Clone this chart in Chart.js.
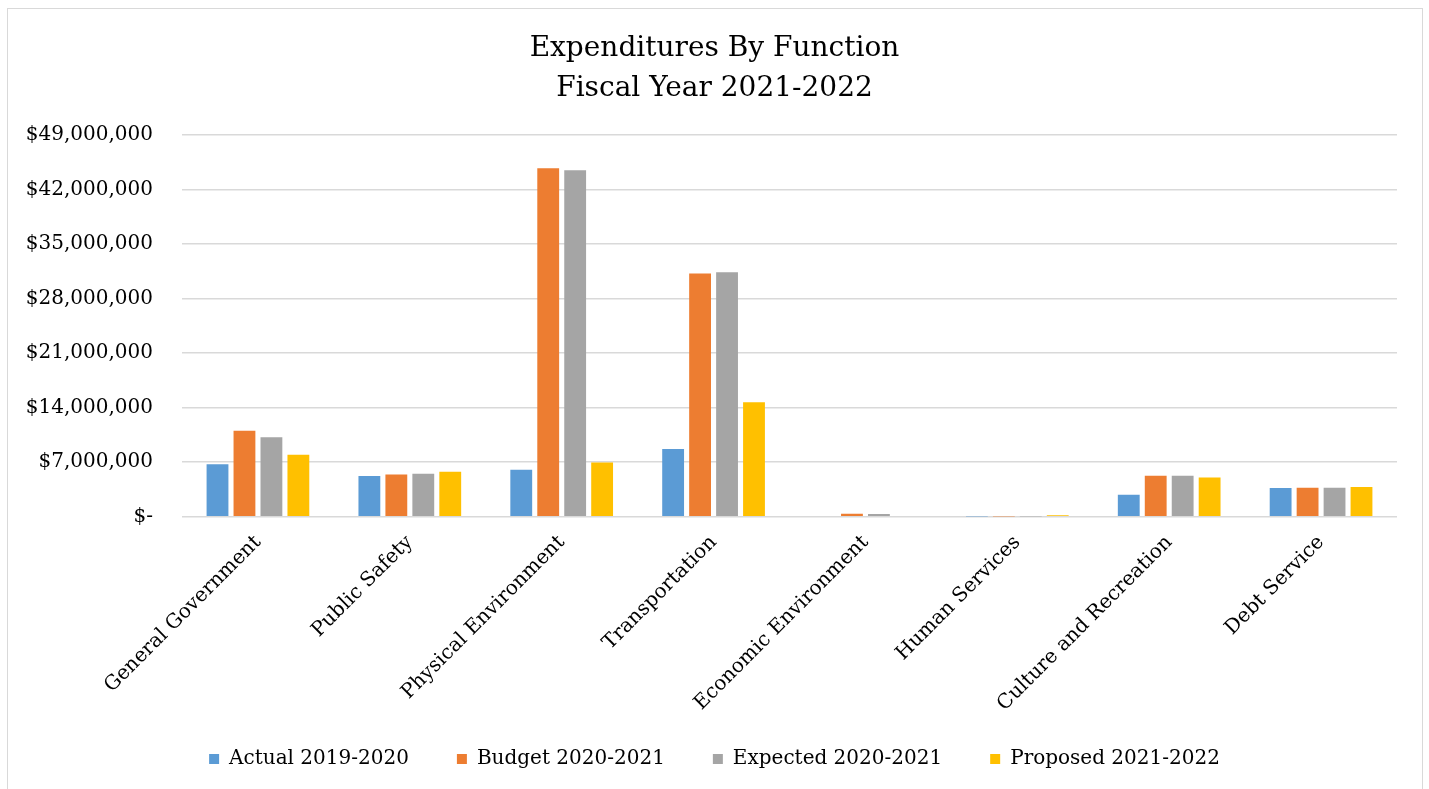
<!DOCTYPE html>
<html>
<head>
<meta charset="utf-8">
<script src="https://cdn.jsdelivr.net/npm/chart.js@4.4.1/dist/chart.umd.min.js"></script>
<style>
  html, body { margin: 0; padding: 0; background: #fff; overflow: hidden; }
  #wrap { position: relative; width: 1429px; height: 789px; }
  #frame { position: absolute; left: 7px; top: 8px; width: 1414px; height: 800px; border: 1px solid #d9d9d9; }
  canvas { position: absolute; left: 0; top: 0; }
</style>
</head>
<body>
<div id="wrap">
  <div id="frame"></div>
  <canvas id="chart" width="1429" height="789"></canvas>
</div>
<script>
/* ── data ─────────────────────────────────────────────────────────── */
var categories = ['General Government', 'Public Safety', 'Physical Environment', 'Transportation',
  'Economic Environment', 'Human Services', 'Culture and Recreation', 'Debt Service'];
var seriesNames = ['Actual 2019-2020', 'Budget 2020-2021', 'Expected 2020-2021', 'Proposed 2021-2022'];
var actual   = [6730000, 5230000, 6040000, 8700000, 0, 20000, 2830000, 3690000];
var budget   = [11060000, 5440000, 44750000, 31250000, 390000, 20000, 5270000, 3730000];
var expected = [10200000, 5530000, 44500000, 31400000, 350000, 20000, 5270000, 3730000];
var proposed = [7970000, 5790000, 6980000, 14700000, 0, 200000, 5050000, 3820000];
var yTicks = [0, 7000000, 14000000, 21000000, 28000000, 35000000, 42000000, 49000000];

var COLORS = ['#5B9BD5', '#ED7D31', '#A5A5A5', '#FFC000'];
var FONT = "'DejaVu Serif', 'Liberation Serif', serif";

function money(v) {
  if (v === 0) return '$-';
  return '$' + v.toLocaleString('en-US');
}

var values = [actual, budget, expected, proposed];
var datasets = seriesNames.map(function (name, i) {
  return {
    label: name,
    data: values[i],
    backgroundColor: COLORS[i],
    borderWidth: 0,
    barPercentage: 0.81,
    categoryPercentage: 0.71,
  };
});

new Chart(document.getElementById('chart'), {
  type: 'bar',
  data: { labels: categories, datasets: datasets },
  options: {
    responsive: false,
    animation: false,
    layout: { padding: { left: 24, right: 24, top: 18, bottom: 10 } },
    plugins: {
      title: {
        display: true,
        text: ['Expenditures By Function', 'Fiscal Year 2021-2022'],
        color: '#000',
        font: { family: FONT, size: 28, weight: 'normal', lineHeight: 1.45 },
        padding: { top: 10, bottom: 26 },
      },
      legend: {
        position: 'bottom',
        labels: {
          color: '#000',
          font: { family: FONT, size: 20 },
          boxWidth: 10,
          boxHeight: 10,
          padding: 48,
        },
      },
      tooltip: { enabled: false },
    },
    scales: {
      x: {
        grid: { display: false },
        border: { display: false },
        ticks: {
          color: '#000',
          font: { family: FONT, size: 20 },
          minRotation: 45,
          maxRotation: 45,
          padding: 6,
        },
        // rotated labels fit inside the frame; don't let them push the plot inward,
        // and let them hang a little past the axis box without being clipped
        afterFit: function (s) {
          s.paddingLeft = 0;
          s.paddingRight = 32;
          s.height = s.height - 21;
          s._computeLabelArea = function () { return undefined; };
        },
      },
      y: {
        min: 0,
        max: 49000000,
        afterBuildTicks: function (axis) {
          axis.ticks = yTicks.map(function (v) { return { value: v }; });
        },
        afterFit: function (s) { s.width = 158; },
        grid: { color: '#d9d9d9', lineWidth: 1.5, drawTicks: false },
        border: { display: false },
        ticks: {
          color: '#000',
          font: { family: FONT, size: 20 },
          padding: 29,
          callback: function (v) { return money(v); },
        },
      },
    },
  },
});
</script>
</body>
</html>
